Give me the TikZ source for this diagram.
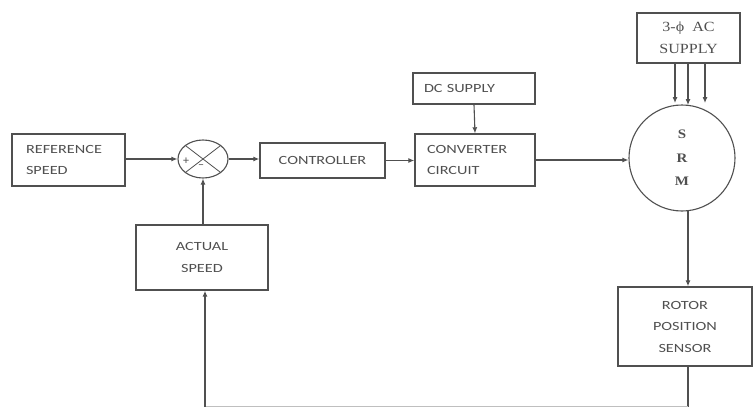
\documentclass[tikz,border=0pt]{standalone}
\usepackage{fontspec}
\setmainfont{Carlito}
\newfontfamily\lbl{Carlito}[FakeStretch=1.3]
\newfontfamily\serifft{Liberation Serif}[FakeStretch=1.15]
\usetikzlibrary{arrows.meta,shapes.geometric}
\definecolor{ln}{HTML}{505050}
\definecolor{tx}{HTML}{505050}
\tikzset{
  blk/.style={draw=ln,line width=1.4pt,text=tx,align=center,inner sep=0pt,font=\lbl\fontsize{12.5}{21.5}\selectfont},
  con/.style={draw=ln,line width=1.1pt,-{Latex[length=6pt,width=5pt]}},
  wire/.style={draw=ln,line width=1.1pt}
}
\begin{document}
\begin{tikzpicture}[x=1pt,y=-1pt]
\useasboundingbox (0,0) rectangle (753,407);
\fill[white] (0,0) rectangle (753,407);
% blocks
\node[blk,minimum width=113pt,minimum height=52pt,align=left,text width=85pt,inner xsep=14pt] (ref) at (68.5,160) {REFERENCE\\SPEED};
\node[draw=ln,line width=1.1pt,ellipse,minimum width=50pt,minimum height=38pt,inner sep=0pt] (sum) at (203,159) {};
\draw[ln,line width=0.8pt] (sum.north west) -- (sum.south east);
\draw[ln,line width=0.8pt] (sum.north east) -- (sum.south west);
\node[text=tx,font=\fontsize{12}{12}\selectfont,inner sep=0pt] (plus) at (186,161) {+};
\node[text=tx,font=\fontsize{12}{12}\selectfont,inner sep=0pt] (minus) at (201,167) {--};
\node[blk,minimum width=125pt,minimum height=35pt] (ctrl) at (322.5,160.5) {CONTROLLER};
\node[blk,minimum width=122pt,minimum height=31pt,align=left,text width=100pt,inner xsep=11pt] (dc) at (474,88.5) {DC SUPPLY};
\node[blk,minimum width=120pt,minimum height=52pt,align=left,text width=96pt,inner xsep=12pt] (conv) at (475,160) {CONVERTER\\CIRCUIT};
\node[blk,minimum width=103pt,minimum height=50pt,font=\serifft\fontsize{14}{22}\selectfont] (ac) at (688.5,38) {3-ϕ\ \ AC\\SUPPLY};
\node[draw=ln,line width=1.1pt,circle,minimum size=106pt,inner sep=0pt,text=tx,align=center,font=\serifft\bfseries\fontsize{13}{23.5}\selectfont] (srm) at (682,158) {S\\R\\M};
\node[blk,minimum width=134pt,minimum height=79pt] (rps) at (685,326.5) {ROTOR\\POSITION\\SENSOR};
\node[blk,minimum width=132pt,minimum height=65pt] (act) at (202,257.5) {ACTUAL\\SPEED};
\coordinate (c1) at (688,406.5);
\coordinate (c2) at (205,406.5);
% connectors
\draw[con] (ref.east |- sum.west) -- (sum.west);
\draw[con] (sum.east) -- (ctrl.west |- sum.east);
\draw[con] (ctrl.east) -- (conv.west |- ctrl.east);
\draw[con] (dc.south) -- (conv.north);
\draw[con] (conv.east |- 0,160) -- (srm.west |- 0,160);
\draw[con] (675,63) -- (675,103);
\draw[con] (688,63) -- (688,105);
\draw[con] (705,63) -- (705,103);
\draw[con] (688,211) -- (rps.north -| 688,0);
\draw[con] (act.north -| sum.south) -- (sum.south);
\draw[wire] (rps.south -| c1) -- (c1);
\draw[wire,draw=black!25] (c1) -- (c2);
\draw[con] (c2) -- (act.south -| c2);
\end{tikzpicture}
\end{document}
